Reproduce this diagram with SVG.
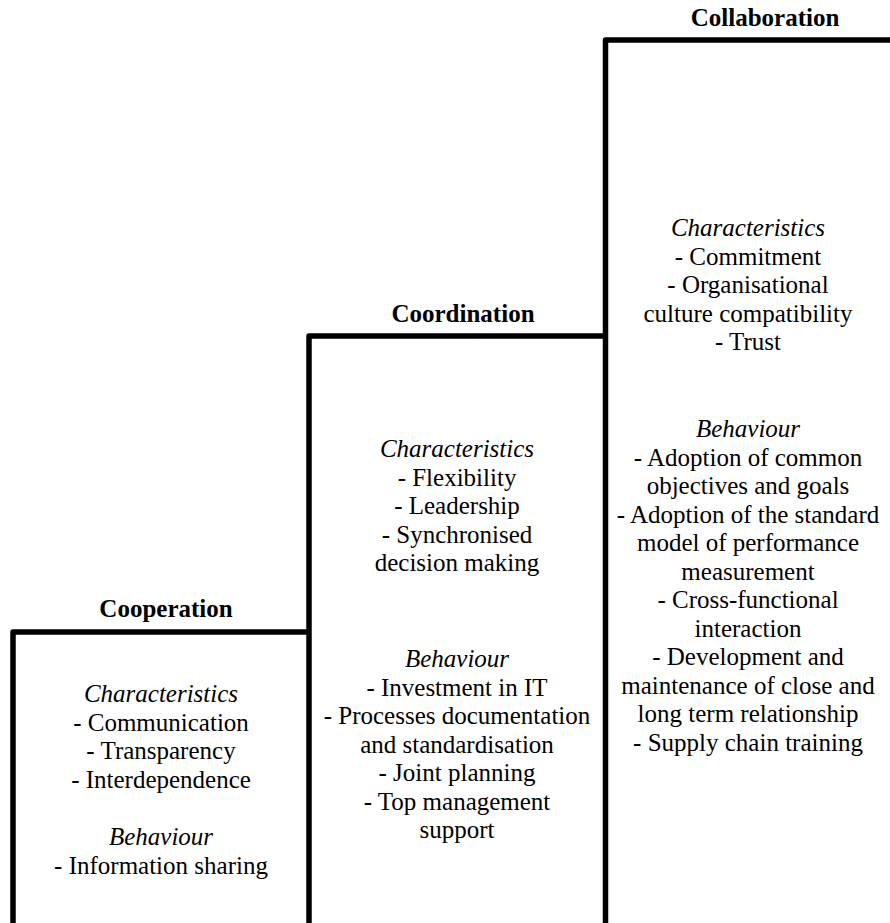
<svg xmlns="http://www.w3.org/2000/svg" width="890" height="923" viewBox="0 0 890 923">
<style>
text{font-family:"Liberation Serif","Nimbus Roman","Nimbus Roman No9 L","FreeSerif","Noto Serif","Times New Roman",Times,"DejaVu Serif",serif;font-size:25px;fill:#000;text-anchor:middle}
.h{font-weight:bold}
.i{font-style:italic}
.step{fill:none;stroke:#000;stroke-width:5.5;stroke-linejoin:round}
</style>
<rect width="890" height="923" fill="#fff"/>
<g id="connectors">
<path class="step" d="M13,923 V632 H309"/>
<path class="step" d="M309,923 V336 H605"/>
<path class="step" d="M605.5,923 V40 H890"/>
</g>
<g id="cooperation">
<text class="h" x="166" y="617">Cooperation</text>
<text class="i" x="161" y="702">Characteristics</text>
<text x="161" y="730.5">- Communication</text>
<text x="161" y="759">- Transparency</text>
<text x="161" y="787.5">- Interdependence</text>
<text class="i" x="161" y="845">Behaviour</text>
<text x="161" y="873.5">- Information sharing</text>
</g>
<g id="coordination">
<text class="h" x="463" y="322">Coordination</text>
<text class="i" x="457" y="457">Characteristics</text>
<text x="457" y="485.5">- Flexibility</text>
<text x="457" y="514">- Leadership</text>
<text x="457" y="542.5">- Synchronised</text>
<text x="457" y="571">decision making</text>
<text class="i" x="457" y="667">Behaviour</text>
<text x="457" y="695.5">- Investment in IT</text>
<text x="457" y="724">- Processes documentation</text>
<text x="457" y="752.5">and standardisation</text>
<text x="457" y="781">- Joint planning</text>
<text x="457" y="809.5">- Top management</text>
<text x="457" y="838">support</text>
</g>
<g id="collaboration">
<text class="h" x="765" y="26">Collaboration</text>
<text class="i" x="748" y="236">Characteristics</text>
<text x="748" y="264.5">- Commitment</text>
<text x="748" y="293">- Organisational</text>
<text x="748" y="321.5">culture compatibility</text>
<text x="748" y="350">- Trust</text>
<text class="i" x="748" y="437">Behaviour</text>
<text x="748" y="465.5">- Adoption of common</text>
<text x="748" y="494">objectives and goals</text>
<text x="748" y="522.5">- Adoption of the standard</text>
<text x="748" y="551">model of performance</text>
<text x="748" y="579.5">measurement</text>
<text x="748" y="608">- Cross-functional</text>
<text x="748" y="636.5">interaction</text>
<text x="748" y="665">- Development and</text>
<text x="748" y="693.5">maintenance of close and</text>
<text x="748" y="722">long term relationship</text>
<text x="748" y="750.5">- Supply chain training</text>
</g>
</svg>
